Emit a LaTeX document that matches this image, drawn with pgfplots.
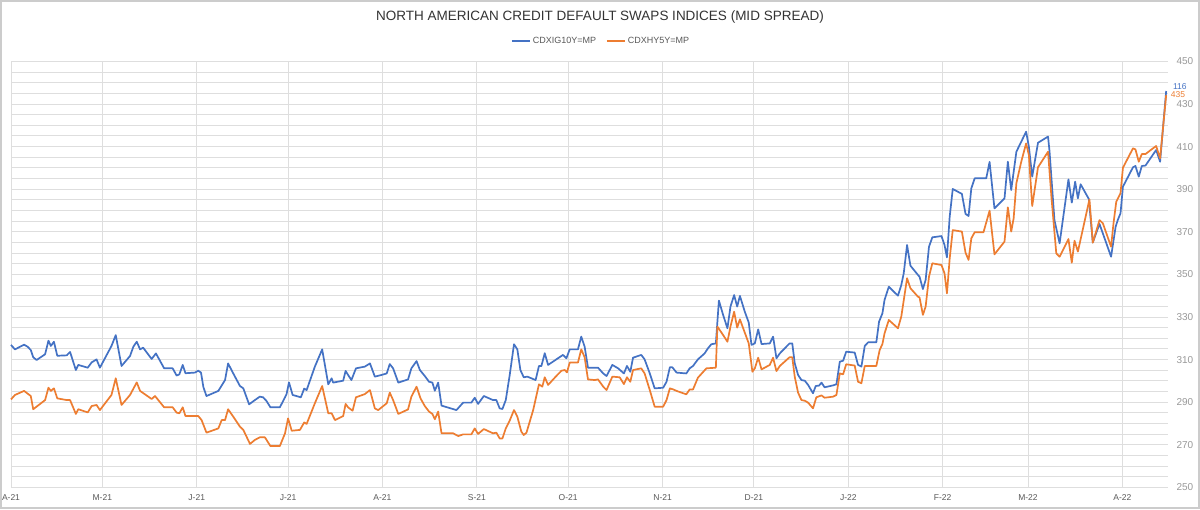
\documentclass[border=0pt]{standalone}
\usepackage{pgfplots}
\usepackage{pgfplotstable}
\pgfplotsset{compat=1.18}
\usepackage{fontspec}
\setmainfont{Liberation Sans}
\definecolor{cblue}{HTML}{4472C4}
\definecolor{corange}{HTML}{ED7D31}
\definecolor{gridc}{HTML}{DEDEDE}
\definecolor{framec}{HTML}{CCCCCC}
\pgfplotstableread{
d v
0 316.9
1.3 314.8
4.3 317.0
5.4 316.1
6.5 314.5
7.3 311.1
8.4 309.8
11.2 312.5
12.3 318.9
13.1 316.4
14.1 318.4
15.2 311.8
18.3 312.0
19.4 313.6
21.3 305.1
22.1 307.5
25.2 306.2
26.5 308.7
28.1 310.1
29.2 306.2
33.0 316.4
34.4 321.5
36.3 307.0
39.1 311.7
40.2 316.1
41.3 318.4
42.4 314.8
43.4 315.6
46.2 310.3
47.6 312.9
50.3 305.9
53.1 305.9
54.4 302.5
55.3 303.1
56.4 307.5
57.3 303.6
60.4 303.9
61.5 304.8
62.4 303.9
63.2 297.0
64.2 292.9
68.1 295.3
70.3 300.4
71.3 308.2
73.0 303.5
75.2 297.6
76.3 296.5
78.2 289.0
80.1 291.0
81.7 292.6
82.8 292.3
83.9 290.6
85.2 287.6
88.3 287.6
90.0 292.3
90.5 293.8
91.3 299.3
92.5 293.4
95.2 292.3
96.3 296.4
97.1 295.7
99.8 306.7
102.2 314.8
104.2 298.4
105.3 301.2
105.8 299.2
109.1 300.1
109.9 304.7
110.7 302.8
111.8 300.4
113.3 305.9
116.2 306.7
117.9 308.2
119.5 302.0
121.7 302.8
123.4 303.5
124.4 307.9
125.5 305.9
127.2 299.2
130.4 300.7
131.5 305.9
133.2 309.3
134.3 305.1
135.9 302.3
137.3 299.6
138.4 299.2
139.2 295.4
140.3 299.2
141.4 288.4
146.3 286.3
148.5 289.8
151.2 289.8
152.3 292.1
153.4 289.2
155.3 292.9
158.3 291.0
159.4 291.0
160.5 287.1
161.4 286.8
162.5 291.0
163.8 302.8
165.2 317.2
166.3 314.8
167.3 305.1
168.4 301.7
169.6 302.0
172.3 300.4
173.4 307.0
174.2 307.0
175.3 313.0
176.4 307.5
179.1 310.1
181.3 312.2
182.4 310.6
183.5 314.8
186.2 314.8
187.3 320.8
188.4 316.1
189.5 306.2
192.8 306.2
194.5 303.5
195.6 302.3
197.5 307.5
199.4 305.9
201.3 303.5
202.3 307.0
203.4 304.3
204.3 310.9
207.0 312.2
208.1 310.1
209.8 303.5
211.4 296.5
214.2 296.8
215.3 299.6
216.4 306.4
217.2 306.4
218.6 303.9
221.8 303.5
222.9 305.9
224.0 307.0
225.6 310.1
227.8 312.9
228.9 315.3
230.0 317.2
231.5 317.6
232.5 337.7
233.9 330.9
235.3 324.7
236.3 334.9
237.5 340.3
238.5 334.9
239.4 339.9
241.0 332.5
242.3 327.4
243.2 316.9
244.3 317.6
245.4 324.2
246.5 317.3
249.2 317.6
250.3 320.8
251.4 310.6
252.5 312.9
255.7 317.6
256.6 317.6
257.4 308.3
258.5 302.8
259.6 300.4
260.7 300.1
261.8 298.1
263.4 294.2
264.3 297.6
265.4 297.8
266.2 299.2
267.2 297.0
270.0 297.9
271.1 298.4
272.2 309.0
273.3 309.5
274.3 313.7
277.1 313.3
278.2 307.5
279.3 306.7
280.4 316.4
281.5 318.1
284.2 318.1
285.1 327.8
286.2 331.7
286.9 338.0
288.3 344.2
291.3 340.0
292.4 345.0
293.2 350.5
294.3 363.8
295.4 354.1
297.9 349.7
298.4 348.9
299.5 343.1
300.4 347.4
301.5 363.0
302.6 367.4
305.6 368.0
306.6 363.8
307.4 358.0
308.3 377.1
309.3 390.1
312.3 387.8
313.5 378.4
314.5 377.4
315.4 390.4
316.5 395.1
320.3 395.1
321.4 402.8
323.0 381.0
325.2 384.1
326.3 385.7
327.4 402.9
328.5 389.6
330.2 407.6
333.4 417.0
334.3 410.0
335.4 395.9
337.3 411.8
340.6 414.7
341.1 407.6
342.7 375.5
344.4 364.6
347.3 394.6
348.4 383.7
349.5 393.5
350.4 385.7
351.3 392.3
354.0 385.4
355.3 365.0
357.5 373.7
361.3 358.3
362.8 372.4
363.5 375.5
364.4 378.7
365.2 391.2
368.5 400.3
369.3 400.9
370.4 395.9
371.4 400.9
372.6 401.1
376.1 408.4
377.4 402.9
379.4 436.1
}\blueT
\pgfplotstableread{
d v
0 291.3
1.3 293.4
4.3 295.3
6.5 292.9
7.3 286.7
11.2 291.0
12.3 296.8
13.1 295.3
14.1 296.5
15.2 291.8
18.3 291.0
19.4 291.0
21.3 284.5
22.1 286.7
25.2 285.2
26.5 288.2
28.1 288.7
29.2 286.3
33.0 293.4
34.4 301.2
36.3 288.7
39.1 293.4
41.3 299.3
42.4 295.3
46.2 291.5
47.3 292.9
50.3 287.6
53.1 287.6
54.4 285.1
55.3 284.8
56.4 287.6
57.3 283.5
61.5 283.5
62.6 281.6
64.2 275.7
68.1 277.7
69.2 281.6
70.3 281.6
71.3 286.7
73.0 283.2
75.2 278.5
76.3 277.0
78.5 270.4
80.1 272.3
81.7 273.5
83.4 273.5
85.2 269.4
88.3 269.4
90.0 275.4
91.0 282.4
92.2 276.6
94.9 277.0
96.3 280.5
97.1 279.8
99.8 289.5
102.2 297.6
104.2 284.8
105.3 284.8
106.4 281.6
109.1 283.5
109.9 289.2
110.7 287.6
112.2 286.0
113.3 292.3
116.2 293.8
117.9 295.7
119.5 287.1
120.6 286.3
123.4 289.5
124.4 294.5
125.5 291.0
127.2 284.5
130.4 286.6
131.5 292.6
133.2 297.3
134.5 291.8
135.9 288.2
137.3 285.6
138.4 284.5
139.2 282.0
140.3 285.6
141.4 275.4
145.2 275.4
146.9 274.1
148.5 274.9
151.2 274.9
152.3 277.7
153.4 275.1
155.3 277.4
158.3 275.4
159.4 275.7
160.5 273.0
161.4 273.0
162.5 277.7
163.8 281.4
165.2 286.3
166.3 283.2
167.6 276.2
168.4 274.6
169.3 275.7
171.5 286.3
173.4 298.4
174.5 297.3
175.3 301.7
176.4 298.1
179.1 302.3
180.8 304.8
181.9 305.1
182.6 304.0
183.5 308.6
186.2 308.6
187.3 314.8
188.4 311.1
189.5 300.7
191.7 300.4
192.8 300.7
194.5 297.3
195.6 295.7
197.5 302.0
199.9 301.7
201.3 298.5
202.3 301.7
203.4 299.6
204.3 305.1
207.0 305.9
208.1 303.5
209.8 295.7
211.4 287.9
214.2 287.9
215.3 291.0
216.4 296.5
217.5 296.0
218.6 295.3
221.8 293.7
222.9 296.0
224.0 296.0
225.6 301.5
228.4 305.9
231.5 306.2
232.0 325.5
233.9 321.5
235.3 318.4
236.3 325.5
237.5 332.5
238.5 325.0
239.4 328.9
242.3 317.6
243.5 304.3
244.3 305.9
245.4 310.9
246.5 305.4
249.2 307.5
250.3 310.9
251.4 304.6
252.5 307.0
255.7 311.1
256.6 311.1
257.4 302.0
258.5 294.5
259.6 291.0
260.7 290.7
261.8 289.8
263.4 287.1
264.5 292.3
266.2 293.2
267.2 292.1
270.0 292.6
271.1 293.4
272.2 303.5
273.3 303.1
274.3 307.8
277.1 307.2
278.2 299.6
279.3 298.9
280.4 307.0
284.2 307.0
285.3 314.5
286.2 317.3
286.9 322.3
288.3 328.6
291.3 324.7
292.4 330.2
294.3 348.2
295.4 343.5
297.9 339.5
298.4 339.2
299.5 331.0
300.4 334.9
301.5 348.9
302.6 355.2
305.6 354.4
306.6 350.5
307.4 341.1
308.3 357.5
309.3 370.8
312.3 370.1
313.5 360.2
314.5 356.8
315.4 366.9
316.5 369.8
319.4 369.8
321.4 379.9
323.0 359.4
326.3 365.4
327.4 381.5
328.5 370.1
329.3 376.3
330.2 392.8
331.8 402.9
333.4 411.5
334.3 406.1
335.4 382.1
337.3 400.3
340.6 407.6
341.7 386.5
343.3 359.9
344.4 358.3
347.3 366.6
348.4 355.5
349.3 365.8
350.4 360.7
354.2 385.2
355.3 364.9
357.5 375.5
358.6 374.0
361.3 363.0
362.1 374.0
363.0 384.1
364.4 388.1
365.2 400.1
368.5 409.2
369.3 408.7
370.4 402.9
371.4 406.5
372.6 406.5
376.1 410.3
377.4 404.5
379.4 434.2
}\orangeT
\begin{document}
\begin{tikzpicture}[x=1pt,y=1pt]
\fill[white] (0,0) rectangle (1200,509);
\node[text=black!80, font=\fontsize{13.5}{15}\selectfont] at (600,492) {NORTH AMERICAN CREDIT DEFAULT SWAPS INDICES (MID SPREAD)};
\begin{axis}[
  at={(11pt,21.6pt)}, anchor=south west,
  scale only axis, width=1157pt, height=426pt,
  xmin=0, xmax=380, ymin=250, ymax=450,
  clip=false,
  xtick={0,30,61,91,122,153,183,214,244,275,306,334,365},
  xticklabels={A-21,M-21,J-21,J-21,A-21,S-21,O-21,N-21,D-21,J-22,F-22,M-22,A-22},
  ytick={250,270,...,450},
  minor ytick={255,260,...,445},
  yticklabel pos=right,
  axis line style={draw=none},
  major tick length=0pt, minor tick length=0pt,
  xmajorgrids, ymajorgrids, yminorgrids,
  major grid style={draw=gridc, line width=0.9pt},
  minor grid style={draw=gridc, line width=0.9pt},
  /pgf/number format/assume math mode=true,
  yticklabel style={font=\fontsize{10}{12}\selectfont, text=black!40, anchor=west, xshift=5pt},
  xticklabel style={font=\fontsize{8.5}{10}\selectfont, text=black!65, yshift=-4pt},
  legend style={at={(0.51,1.048)}, anchor=center, draw=none, fill=none,
    font=\fontsize{9}{11}\selectfont, text=black!65, legend columns=2,
    /tikz/every even column/.append style={column sep=8pt}},
  legend image code/.code={\draw[#1] (0pt,0pt) -- (18pt,0pt);},
]
\addplot[cblue, line width=1.7pt, line join=round] table[x=d,y=v] {\blueT};
\addlegendentry{CDXIG10Y=MP}
\addplot[corange, line width=1.7pt, line join=round] table[x=d,y=v] {\orangeT};
\addlegendentry{CDXHY5Y=MP}
\node[anchor=south west, inner sep=0.3pt, text=cblue, font=\fontsize{8.5}{9}\selectfont] at (axis cs:381.5,436.6) {116};
\node[anchor=north west, inner sep=0.3pt, text=corange, font=\fontsize{8.5}{9}\selectfont] at (axis cs:380.8,436.2) {435};
\end{axis}
\draw[framec, line width=2pt] (1,1) rectangle (1199,508);
\pgfresetboundingbox
\path (0,0) rectangle (1200,509);
\end{tikzpicture}
\end{document}
